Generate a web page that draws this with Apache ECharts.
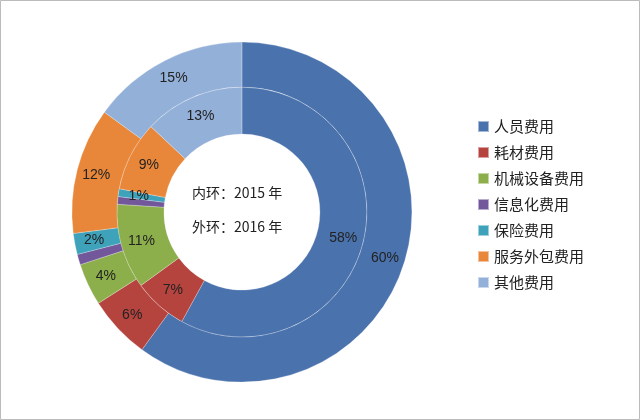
<!DOCTYPE html>
<html><head><meta charset="utf-8">
<script src="https://cdn.jsdelivr.net/npm/echarts@6/dist/echarts.min.js"></script>
<style>html,body{margin:0;padding:0;background:#fff}#c{width:640px;height:420px}</style>
</head><body><div id="c"></div>
<script>
const categories = ['人员费用','耗材费用','机械设备费用','信息化费用','保险费用','服务外包费用','其他费用'];
const inner2015 = [58,7,11,1,1,9,13];
const outer2016 = [60,6,4,1,2,12,15];
const colors = ['#4a72ad','#b5443f','#8caf4c','#72589a','#3fa2bb','#e8873a','#93b0d8'];
const chart = echarts.init(document.getElementById('c'));
const lbl = {show:true,position:'inside',formatter:'{d}%',color:'#222',fontSize:14,fontFamily:'Liberation Sans, Arial'};
const mk = (name, data, r) => ({
  type:'pie', name, radius:r, center:['37.8%','50.5%'], startAngle:90, clockwise:true,
  label:lbl, labelLine:{show:false}, avoidLabelOverlap:false,
  itemStyle:{borderColor:'rgba(255,255,255,0.5)',borderWidth:0.5},
  emphasis:{disabled:true},
  data: categories.map((c,i)=>({name:c,value:data[i]}))
});
chart.setOption({
  color: colors,
  animation:false,
  graphic:[
    {type:'rect',shape:{x:0.5,y:0.5,width:639,height:419},style:{fill:'none',stroke:'#bbb',lineWidth:1}},
    {type:'text',left:192,top:186,style:{text:'内环：2015 年',fontSize:14,fill:'#222',fontFamily:'Noto Sans CJK SC'}},
    {type:'text',left:192,top:220,style:{text:'外环：2016 年',fontSize:14,fill:'#222',fontFamily:'Noto Sans CJK SC'}}
  ],
  legend:{orient:'vertical',left:472,top:114,itemWidth:11,itemHeight:11,itemGap:11,
    icon:'rect',textStyle:{fontSize:15,color:'#222',fontFamily:'Noto Sans CJK SC'},data:categories},
  series:[ mk('2015', inner2015, [78,125]), mk('2016', outer2016, [125,170]) ]
});
</script></body></html>
